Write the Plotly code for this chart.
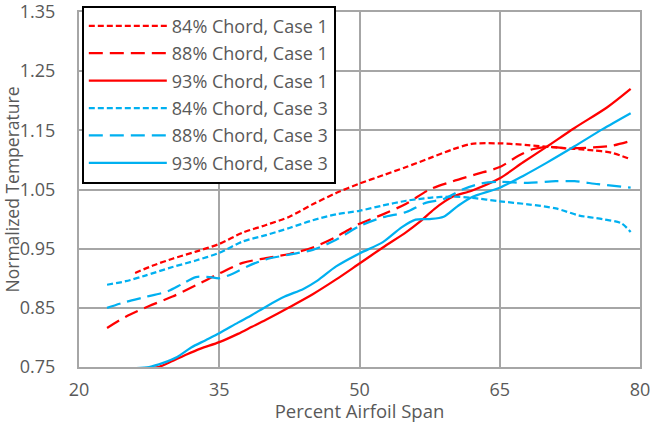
import plotly.graph_objects as go

# ---- data ----
x_84c1 = [26, 28, 30, 32.5, 35, 37.5, 40, 42.5, 45, 47.5, 50, 52.5, 55, 57.5, 60, 62, 65, 68, 71, 75, 77, 79]
y_84c1 = [0.909, 0.922, 0.933, 0.945, 0.958, 0.977, 0.990, 1.004, 1.025, 1.044, 1.060, 1.074, 1.088, 1.103,
          1.118, 1.127, 1.128, 1.125, 1.121, 1.116, 1.112, 1.101]

x_88c1 = [23, 25, 27.5, 30, 32.5, 35, 37.5, 40, 42.5, 45, 47.5, 50, 52.5, 55, 57.5, 60, 62.5, 65, 67, 68.5,
          70, 72, 75, 77, 79]
y_88c1 = [0.816, 0.835, 0.853, 0.869, 0.888, 0.908, 0.926, 0.934, 0.941, 0.952, 0.970, 0.992, 1.008, 1.026,
          1.050, 1.064, 1.076, 1.088, 1.107, 1.118, 1.122, 1.120, 1.121, 1.124, 1.132]

x_93c1 = [27, 28.5, 30, 31.5, 33, 35, 37, 38.5, 40, 42.5, 45, 47.5, 50, 52.5, 55, 56.5, 58, 60, 62, 65,
          67.5, 70, 73, 76.5, 79]
y_93c1 = [0.748, 0.750, 0.760, 0.771, 0.781, 0.792, 0.806, 0.818, 0.830, 0.851, 0.873, 0.898, 0.925, 0.952,
          0.978, 0.996, 1.017, 1.038, 1.048, 1.069, 1.096, 1.122, 1.154, 1.189, 1.220]

x_84c3 = [23, 25, 27, 30, 32.5, 35, 37.5, 40, 42.5, 45, 47.5, 50, 52.5, 55, 57.5, 60, 62, 65, 68, 71, 73.5,
          76, 78, 79]
y_84c3 = [0.889, 0.895, 0.904, 0.919, 0.930, 0.943, 0.962, 0.973, 0.985, 0.998, 1.008, 1.014, 1.023, 1.031,
          1.036, 1.038, 1.036, 1.030, 1.025, 1.018, 1.006, 1.000, 0.993, 0.978]

x_88c3 = [23, 25, 27, 29.5, 31, 32.5, 34, 35, 36.5, 38, 40, 42.5, 45, 47.5, 50, 52.5, 55, 57, 59, 61, 63,
          65, 68, 71, 73, 75.5, 79]
y_88c3 = [0.850, 0.860, 0.868, 0.878, 0.890, 0.902, 0.902, 0.900, 0.908, 0.920, 0.932, 0.940, 0.948, 0.965,
          0.988, 1.003, 1.012, 1.027, 1.034, 1.050, 1.060, 1.063, 1.061, 1.064, 1.064, 1.059, 1.053]

x_93c3 = [26, 27.5, 29, 30.5, 32, 33.5, 35, 37, 38.5, 40, 42, 44, 45.5, 47.5, 50, 52.5, 54.5, 56, 57.5, 59,
          60.5, 62, 65, 67.5, 70, 73, 76, 79]
y_93c3 = [0.748, 0.750, 0.757, 0.767, 0.783, 0.795, 0.807, 0.825, 0.838, 0.852, 0.869, 0.882, 0.896, 0.920,
          0.942, 0.961, 0.986, 0.999, 1.000, 1.004, 1.022, 1.037, 1.053, 1.073, 1.095, 1.123, 1.152, 1.179]

series_names = ["84% Chord, Case 1", "88% Chord, Case 1", "93% Chord, Case 1",
                "84% Chord, Case 3", "88% Chord, Case 3", "93% Chord, Case 3"]

x_ticks = [20, 35, 50, 65, 80]
y_ticks = [0.75, 0.85, 0.95, 1.05, 1.15, 1.25, 1.35]

RED = "#ff0000"
BLUE = "#00b0f0"
SHORT = "6px,3px"
LONG = "14px,7px"

series = [
    (x_84c1, y_84c1, RED, SHORT),
    (x_88c1, y_88c1, RED, LONG),
    (x_93c1, y_93c1, RED, "solid"),
    (x_84c3, y_84c3, BLUE, SHORT),
    (x_88c3, y_88c3, BLUE, LONG),
    (x_93c3, y_93c3, BLUE, "solid"),
]

fig = go.Figure()
for i, (xs, ys, col, dash) in enumerate(series):
    fig.add_trace(go.Scatter(
        x=xs, y=ys, mode="lines", name=series_names[i], legendgroup=f"g{i}",
        line=dict(color=col, width=2.25, dash=dash, shape="spline", smoothing=0.8),
    ))

GRID = "#a6a6a6"
FONT = "Open Sans"
TXT = "#595959"
fig.update_layout(
    width=651, height=423,
    margin=dict(l=79, r=11, t=12, b=56, autoexpand=False),
    paper_bgcolor="white", plot_bgcolor="white",
    font=dict(family=FONT, color=TXT, size=18),
    showlegend=True,
    legend=dict(
        x=0.005, y=1.018, xanchor="left", yanchor="top",
        bgcolor="white", bordercolor="black", borderwidth=2,
        font=dict(family=FONT, size=18, color=TXT),
        tracegroupgap=1, itemwidth=78,
    ),
    xaxis=dict(
        range=[20, 80], tickvals=x_ticks, ticktext=[str(v) for v in x_ticks],
        showgrid=True, gridcolor=GRID, gridwidth=2,
        showline=True, linecolor=GRID, linewidth=2, mirror=True,
        zeroline=False, ticks="", tickfont=dict(size=18, color=TXT), automargin=False,
        ticklabelstandoff=5, ticklabeloverflow="allow",
        title=dict(text="Percent Airfoil Span", font=dict(size=18.5, color=TXT), standoff=0),
    ),
    yaxis=dict(
        range=[0.75, 1.35], tickvals=y_ticks, ticktext=[f"{v:.2f}" for v in y_ticks],
        showgrid=True, gridcolor=GRID, gridwidth=2,
        showline=True, linecolor=GRID, linewidth=2, mirror=True,
        zeroline=False, ticks="", tickfont=dict(size=18, color=TXT), automargin=False,
        ticklabelstandoff=18, ticklabeloverflow="allow",
        title=dict(text="Normalized Temperature", font=dict(size=17.5, color=TXT), standoff=0),
    ),
)

fig.write_html("out.html", post_script="document.body.style.margin='0';",
               config={"displayModeBar": False})
